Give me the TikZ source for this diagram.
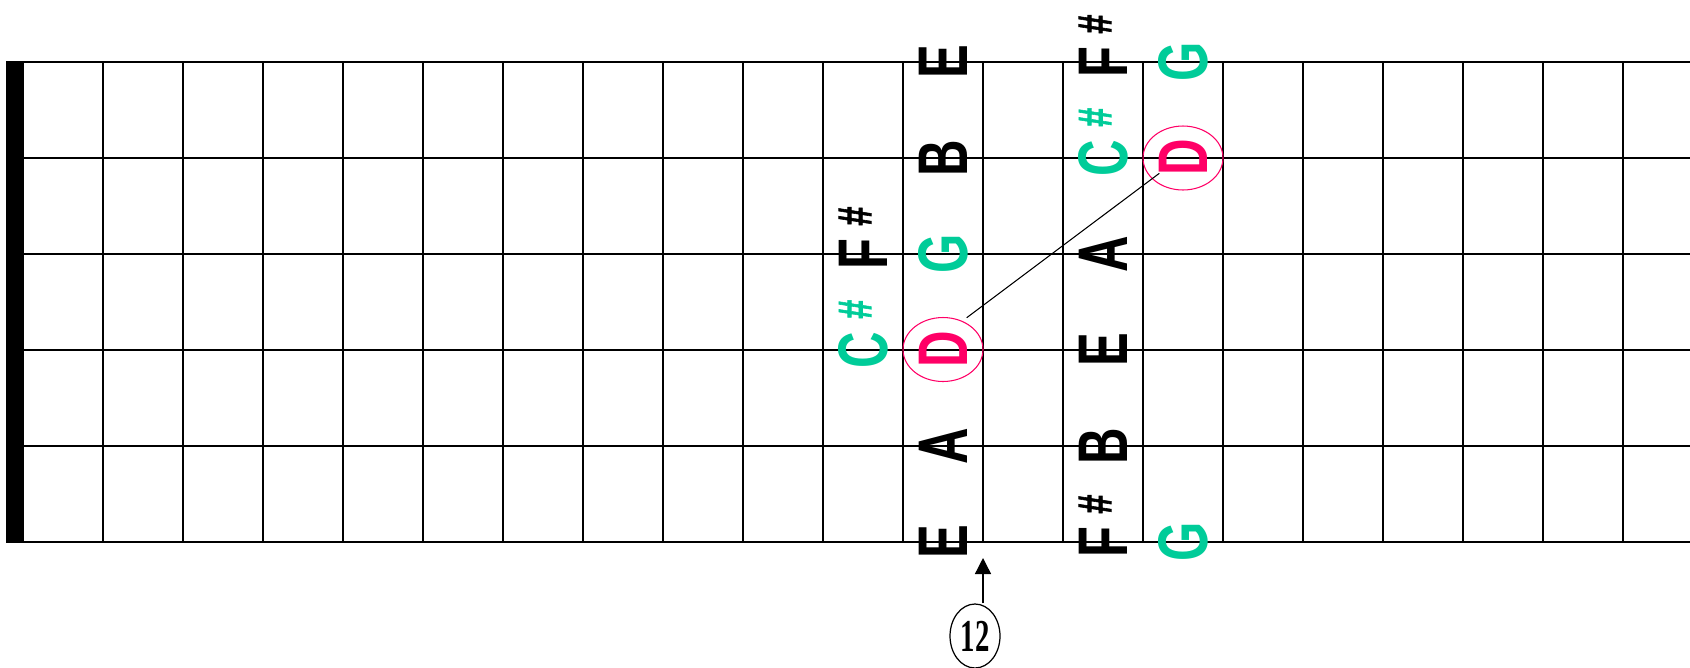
\documentclass[tikz,border=0pt]{standalone}
\usepackage{fontspec}
\usetikzlibrary{arrows.meta,shapes.geometric}
\newfontfamily\notefont{Liberation Sans}
\newfontfamily\sharpfont{Liberation Sans Bold}[FakeBold=1.6]
\newfontfamily\numfont{Liberation Serif}
\definecolor{notegreen}{RGB}{0,204,153}
\definecolor{notered}{RGB}{255,0,102}
\newcommand{\ntx}[1]{\scalebox{0.72}[1]{#1}}
\newcommand{\shp}{\rlap{\hspace{0.36cm}\raisebox{0.32cm}{\sharpfont\fontsize{27}{27}\selectfont\#}}}
\tikzset{
  gridline/.style={line width=0.72pt, black},
  note/.style={font={\notefont\bfseries\fontsize{40}{40}\selectfont}, rotate=90, inner sep=0pt, anchor=center},
  blk/.style={note, text=black},
  grn/.style={note, text=notegreen},
  red/.style={note, text=notered},
  ring/.style={draw=notered, ellipse, minimum width=1.6cm, minimum height=1.28cm, inner sep=0pt, line width=0.6pt},
}
\begin{document}
\begin{tikzpicture}[x=0.02cm, y=-0.02cm]
\useasboundingbox (0,0) rectangle (1690,667);
% nut
\fill[black] (6,61) rectangle (24,543);
% strings
\foreach \k in {0,...,5} { \draw[gridline] (24,62+96*\k) -- (1690,62+96*\k); }
% frets
\foreach \k in {0,...,19} { \draw[gridline] (103+80*\k,62) -- (103+80*\k,542); }
% fret 11 space
\node[blk] (f11s3) at (863,254) {\ntx{F\shp}};
\node[grn] (f11s4) at (863,350) {\ntx{C\shp}};
% fret 12 space
\node[blk] (f12s1) at (943,62) {\ntx{E}};
\node[blk] (f12s2) at (943,158) {\ntx{B}};
\node[grn] (f12s3) at (943,254) {\ntx{G}};
\node[red] (f12s4) at (943,349) {\ntx{D}};
\node[blk] (f12s5) at (943,446) {\ntx{A}};
\node[blk] (f12s6) at (943,542) {\ntx{E}};
% fret 14 space
\node[blk] (f14s1) at (1103,62) {\ntx{F\shp}};
\node[grn] (f14s2) at (1103,158) {\ntx{C\shp}};
\node[blk] (f14s3) at (1103,254) {\ntx{A}};
\node[blk] (f14s4) at (1103,350) {\ntx{E}};
\node[blk] (f14s5) at (1103,446) {\ntx{B}};
\node[blk] (f14s6) at (1103,542) {\ntx{F\shp}};
% fret 15 space
\node[grn] (f15s1) at (1183,62) {\ntx{G}};
\node[red] (f15s2) at (1183,157) {\ntx{D}};
\node[grn] (f15s6) at (1183,542) {\ntx{G}};
% rings
\node[ring] (ringlow) at (943,349.5) {};
\node[ring] (ringhigh) at (1183,158) {};
\coordinate (c1) at (966.7,317.7);
\coordinate (c2) at (1159.3,173.3);
\draw[line width=0.6pt] (c1) -- (c2);
% fret 12 marker
\node[draw, ellipse, minimum width=1cm, minimum height=1.28cm, inner sep=0pt, line width=0.7pt,
      font={\numfont\bfseries\fontsize{26}{26}\selectfont}] (twelve) at (975,636) {\scalebox{0.63}[1]{12}};
\coordinate (tip) at (983,558);
\draw[line width=0.8pt, -{Triangle[length=9.1pt,width=9.1pt]}] (twelve.north -| tip) -- (tip);
\end{tikzpicture}
\end{document}
